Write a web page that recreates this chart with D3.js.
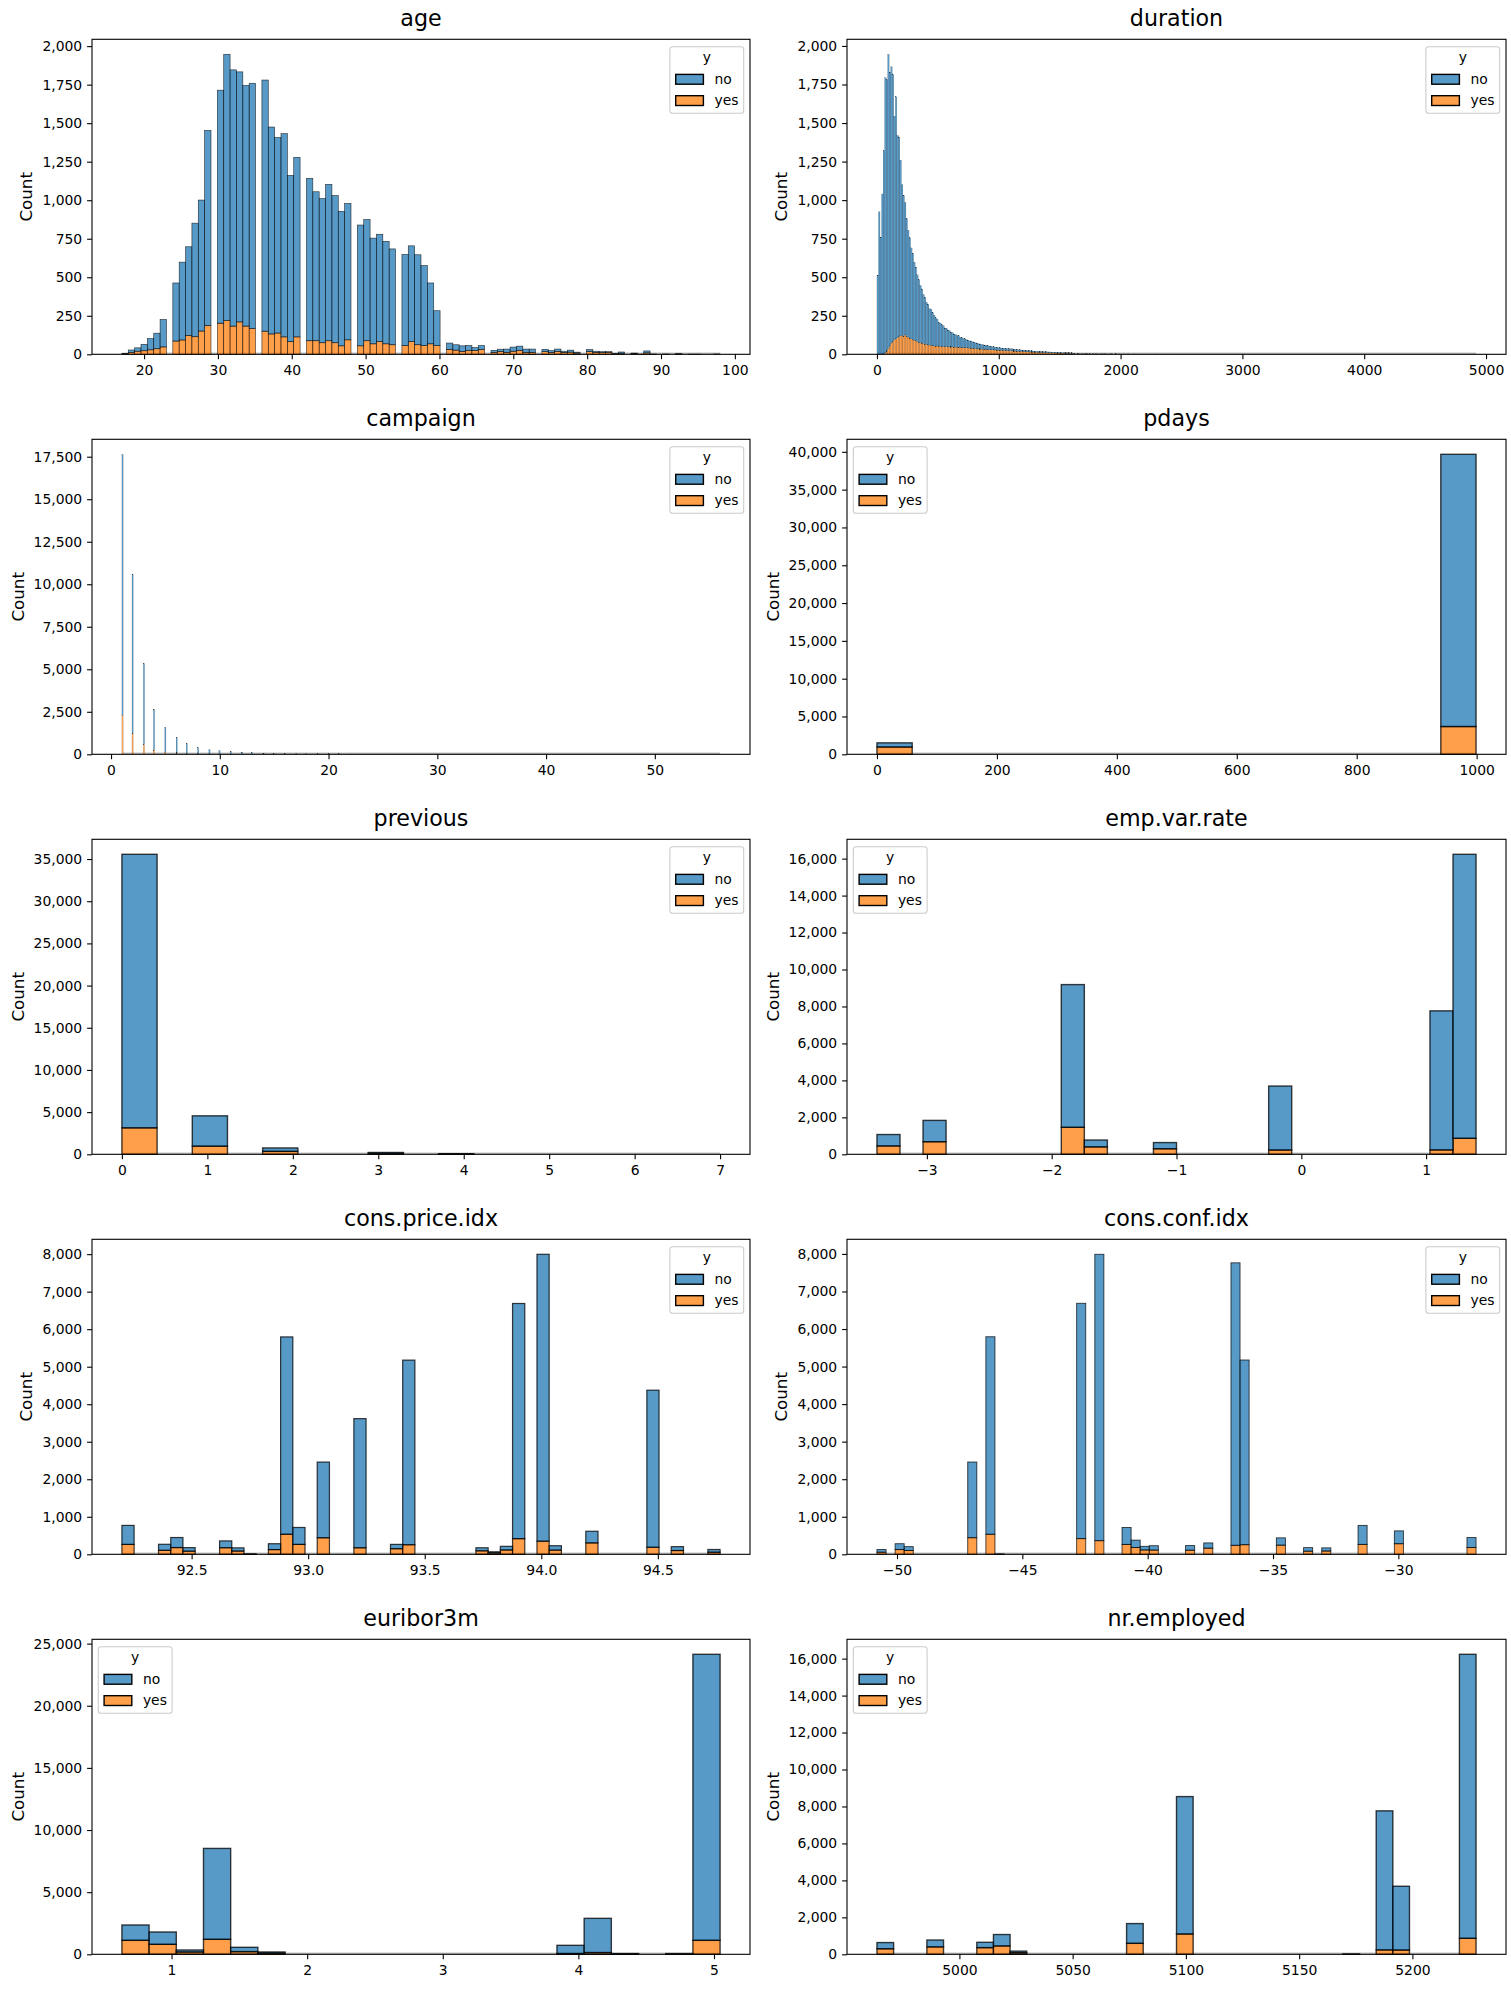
<!DOCTYPE html>
<html>
<head>
<meta charset="utf-8">
<script src="https://cdn.jsdelivr.net/npm/d3@7"></script>
<style>
  body { margin: 0; background: #fff; }
  text { font-family: "DejaVu Sans", sans-serif; fill: #000; }
</style>
</head>
<body>
<svg id="fig" width="1511" height="2011"></svg>
<script>
// ---- data (counts per value or per bin, split by y = no / yes) ----

// age: one entry per age, binned later into 94 equal bins
var ageVals = [17,18,19,20,21,22,23,24,25,26,27,28,29,30,31,32,33,34,35,36,37,38,39,40,41,42,43,44,45,46,47,48,49,50,
  51,52,53,54,55,56,57,58,59,60,61,62,63,64,65,66,67,68,69,70,71,72,73,74,75,76,77,78,79,80,81,82,83,84,85,86,87,88,89,90,
  91,92,93,94,95,96,97,98];
var ageNo = [3,16,22,42,73,101,178,377,505,576,737,850,1267,1512,1727,1663,1623,1562,1592,1630,1343,1269,1319,1079,1165,
  1054,967,936,1015,955,873,885,784,787,686,697,665,622,592,622,584,520,395,227,41,35,36,32,20,26,14,15,21,27,28,21,21,
  15,12,15,8,13,6,14,7,5,4,2,8,4,1,13,0,0,2,1,0,1,1,0,0,0];
var ageYes = [2,12,20,23,29,36,48,86,93,122,114,151,186,202,220,183,210,183,167,150,132,138,113,82,113,88,88,75,88,75,
  55,94,55,88,68,82,68,62,56,82,62,56,68,56,32,27,19,25,24,31,12,18,13,20,25,13,13,17,12,19,12,14,8,17,13,12,13,5,7,4,0,
  9,2,0,0,3,0,0,0,0,0,2];

// duration: counts per bin (392 bins over 0..4918), dense for the first bins, then sparse [bin, no, yes]
var durNo = [514,924,759,1038,1316,1786,1759,1908,1774,1792,
  1731,1449,1569,1313,1296,1141,977,912,859,765,
  693,651,589,561,506,479,432,407,372,353,
  318,304,273,264,236,235,215,199,184,174,
  156,151,142,135,122,120,110,105,96,93,
  85,82,76,74,66,64,59,57,53,50,
  46,46,42,41,38,37,34,33,30,29,
  27,25,24,23,21,21,19,19,18,17,
  16,15,15,14,14,13,13,13,13,12,
  11,11,10,10,10,9,10,9,9,8,
  8,7,7,7,7,6,7,6,6,6,
  5,6,5,5,5,5,4,5,4,4,
  4,4,4,3,4,4,3,3];
var durYes = [0,0,1,2,4,9,21,38,56,73,
  84,96,101,107,114,119,123,118,126,115,
  112,104,101,94,92,87,83,77,75,71,
  70,66,64,61,60,57,56,55,53,54,
  51,52,50,51,49,50,48,49,47,48,
  46,47,45,46,44,45,43,44,42,43,
  41,40,39,38,37,36,35,34,34,33,
  32,33,31,31,30,29,29,28,27,27,
  26,26,25,25,24,24,23,23,22,21,
  21,20,20,19,18,18,17,17,16,16,
  15,15,14,14,13,13,12,12,11,11,
  11,10,10,10,9,9,9,8,8,8,
  7,7,7,7,6,6,6,6];
var durTail = [[128,3,5],[129,2,4],[131,1,5],[132,2,3],[134,2,4],[136,1,4],[137,2,2],[139,1,3],[141,1,3],[143,2,2],
  [145,0,3],[147,1,2],[149,1,3],[151,0,2],[153,1,2],[156,1,2],[158,0,2],[161,1,1],[164,0,2],[168,1,1],[172,0,1],
  [176,0,2],[182,0,2],[187,1,0],[196,0,1],[245,1,0],[391,1,0]];

// campaign: per value
var campVals = [1,2,3,4,5,6,7,8,9,10,11,12,13,14,15,16,17,18,19,20,21,22,23,24,25,26,27,28,29,30,31,32,33,34,35,37,39,40,41,42,43,56];
var campNo = [15342,9359,4767,2402,1479,904,591,383,266,213,165,122,88,68,49,51,54,33,26,29,24,16,15,15,8,8,11,8,10,7,7,4,4,3,5,1,1,2,1,2,2,1];
var campYes = [2300,1211,574,249,120,75,38,17,17,12,12,3,4,1,2,0,4,0,0,1,0,1,1,0,0,0,0,0,0,0,0,0,0,0,0,0,0,0,0,0,0,0];

// pdays: the small-day group and the 999 group
var pdaysVals = [0, 999];
var pdaysNo = [548, 36000];
var pdaysYes = [967, 3673];

// previous
var prevVals = [0,1,2,3,4,5,6,7];
var prevNo = [32422,3594,404,88,32,0,0,0];
var prevYes = [3141,967,350,128,38,0,0,0];

// emp.var.rate
var empVals = [-3.4,-3.0,-2.9,-1.8,-1.7,-1.1,-0.2,-0.1,1.1,1.4];
var empNo = [617,84,1069,7723,370,334,9,3451,7523,15368];
var empYes = [454,88,594,1461,403,301,1,232,240,866];

// cons.price.idx
var priceVals = [92.201,92.379,92.431,92.469,92.649,92.713,92.756,92.843,92.893,92.963,93.075,93.2,93.369,93.444,
  93.749,93.798,93.876,93.918,93.994,94.027,94.055,94.199,94.215,94.465,94.601,94.767];
var priceNo = [506,161,267,94,181,84,9,156,5259,451,2016,3441,114,4919,80,28,96,6267,7523,123,116,139,170,4186,103,72];
var priceYes = [264,106,180,84,176,88,1,126,535,264,442,175,150,256,94,39,116,418,240,110,113,164,141,188,101,56];

// cons.conf.idx
var confVals = [-50.8,-50.0,-49.5,-47.1,-46.2,-45.9,-42.7,-42.0,-41.8,-40.8,-40.4,-40.3,-40.0,-39.8,-38.3,-37.5,
  -36.4,-36.1,-34.8,-34.6,-33.6,-33.0,-31.4,-30.1,-29.8,-26.9];
var confNo = [72,156,103,2016,5259,9,6267,3441,4186,451,28,170,96,116,123,139,7523,4919,114,80,94,84,506,181,161,267];
var confYes = [56,126,101,442,535,1,418,175,188,264,39,141,116,113,110,164,240,256,150,94,84,88,264,176,106,180];

// euribor3m: counts per bin (22 bins over 0.634..5.045)
var euriborNo = [1233,991,160,7314,349,81,0,0,0,0,0,0,0,0,0,0,663,2754,40,0,55,23015];
var euriborYes = [1125,804,188,1206,214,107,0,0,0,0,0,0,0,0,0,0,60,140,20,0,5,1125];

// nr.employed
var nrVals = [4963.6,4991.6,5008.7,5017.5,5023.5,5076.2,5099.1,5176.3,5191.0,5195.8,5228.1];
var nrNo = [334,370,289,617,84,1069,7434,9,7523,3451,15368];
var nrYes = [301,403,361,454,88,594,1100,1,240,232,866];

// ---- binning helpers ----
function binValues(vals, no, yes, lo, hi, n) {
  var bins = d3.range(n).map(function() { return { no: 0, yes: 0 }; });
  vals.forEach(function(v, i) {
    var k = Math.min(n - 1, Math.floor((v - lo) * n / (hi - lo)));
    bins[k].no += no[i];
    bins[k].yes += yes[i];
  });
  return bins;
}
function binDense(no, yes, n, tail) {
  var bins = d3.range(n).map(function() { return { no: 0, yes: 0 }; });
  no.forEach(function(v, i) { bins[i].no = v; bins[i].yes = yes[i]; });
  (tail || []).forEach(function(t) { bins[t[0]].no += t[1]; bins[t[0]].yes += t[2]; });
  return bins;
}

var panels = [
  { title: "age", lo: 17, hi: 98, n: 94, bins: binValues(ageVals, ageNo, ageYes, 17, 98, 94),
    xTicks: [20,30,40,50,60,70,80,90,100], yStep: 250, legend: "right" },
  { title: "duration", lo: 0, hi: 4918, n: 392, bins: binDense(durNo, durYes, 392, durTail),
    xTicks: [0,1000,2000,3000,4000,5000], yStep: 250, legend: "right" },
  { title: "campaign", lo: 1, hi: 56, n: 475, bins: binValues(campVals, campNo, campYes, 1, 56, 475),
    xTicks: [0,10,20,30,40,50], yStep: 2500, legend: "right" },
  { title: "pdays", lo: 0, hi: 999, n: 17, bins: binValues(pdaysVals, pdaysNo, pdaysYes, 0, 999, 17),
    xTicks: [0,200,400,600,800,1000], yStep: 5000, legend: "left" },
  { title: "previous", lo: 0, hi: 7, n: 17, bins: binValues(prevVals, prevNo, prevYes, 0, 7, 17),
    xTicks: [0,1,2,3,4,5,6,7], yStep: 5000, legend: "right" },
  { title: "emp.var.rate", lo: -3.4, hi: 1.4, n: 26, bins: binValues(empVals, empNo, empYes, -3.4, 1.4, 26),
    xTicks: [-3,-2,-1,0,1], yStep: 2000, legend: "left" },
  { title: "cons.price.idx", lo: 92.201, hi: 94.767, n: 49, bins: binValues(priceVals, priceNo, priceYes, 92.201, 94.767, 49),
    xTicks: [92.5,93.0,93.5,94.0,94.5], xFmt: ".1f", yStep: 1000, legend: "right" },
  { title: "cons.conf.idx", lo: -50.8, hi: -26.9, n: 66, bins: binValues(confVals, confNo, confYes, -50.8, -26.9, 66),
    xTicks: [-50,-45,-40,-35,-30], yStep: 1000, legend: "right" },
  { title: "euribor3m", lo: 0.634, hi: 5.045, n: 22, bins: binDense(euriborNo, euriborYes, 22),
    xTicks: [1,2,3,4,5], yStep: 5000, legend: "left" },
  { title: "nr.employed", lo: 4963.6, hi: 5228.1, n: 36, bins: binValues(nrVals, nrNo, nrYes, 4963.6, 5228.1, 36),
    xTicks: [5000,5050,5100,5150,5200], yStep: 2000, legend: "left" }
];

var colNo = "#1f77b4", colYes = "#ff7f0e";
var fig = d3.select("#fig");

panels.forEach(function(p, i) { drawPanel(p, i % 2, Math.floor(i / 2)); });

function drawPanel(p, col, row) {
  var x0 = col ? 847 : 92, w = col ? 659 : 658;
  var y0 = 39.3 + 400 * row, h = 315;
  var span = p.hi - p.lo, bw = span / p.n;

  var x = d3.scaleLinear().domain([p.lo - 0.05 * span, p.hi + 0.05 * span]).range([x0, x0 + w]);
  var maxT = d3.max(p.bins, function(b) { return b.no + b.yes; });
  var y = d3.scaleLinear().domain([0, maxT * 1.05]).range([y0 + h, y0]);

  var g = fig.append("g");
  var lw = Math.min(0.1 * (x(p.lo + bw) - x(p.lo)), 1.39);

  // zero-height bins leave a faint line along the bottom
  g.append("line")
    .attr("x1", x(p.lo)).attr("x2", x(p.hi))
    .attr("y1", y(0) - 1).attr("y2", y(0) - 1)
    .style("stroke", "#c4c4c4").style("stroke-width", 1.6);

  var bars = p.bins.map(function(b, k) { return { k: k, no: b.no, yes: b.yes }; });

  // yes at the bottom, no stacked above
  g.selectAll(".yes").data(bars.filter(function(b) { return b.yes > 0; }))
    .enter().append("rect")
    .attr("x", function(b) { return x(p.lo + b.k * bw); })
    .attr("width", function(b) { return x(p.lo + (b.k + 1) * bw) - x(p.lo + b.k * bw); })
    .attr("y", function(b) { return y(b.yes); })
    .attr("height", function(b) { return y(0) - y(b.yes); })
    .style("fill", colYes).style("fill-opacity", 0.75)
    .style("stroke", "#000").style("stroke-opacity", 0.75).style("stroke-width", lw);

  g.selectAll(".no").data(bars.filter(function(b) { return b.no > 0; }))
    .enter().append("rect")
    .attr("x", function(b) { return x(p.lo + b.k * bw); })
    .attr("width", function(b) { return x(p.lo + (b.k + 1) * bw) - x(p.lo + b.k * bw); })
    .attr("y", function(b) { return y(b.yes + b.no); })
    .attr("height", function(b) { return y(b.yes) - y(b.yes + b.no); })
    .style("fill", colNo).style("fill-opacity", 0.75)
    .style("stroke", "#000").style("stroke-opacity", 0.75).style("stroke-width", lw);

  // axes
  var fmtX = p.xFmt ? d3.format(p.xFmt) : d3.format("d");
  var xa = g.append("g").attr("transform", "translate(0," + (y0 + h) + ")")
    .call(d3.axisBottom(x).tickValues(p.xTicks).tickFormat(fmtX).tickSize(4.9).tickPadding(4.9));
  var yTicks = d3.range(0, y.domain()[1] + 1e-6, p.yStep);
  var ya = g.append("g").attr("transform", "translate(" + x0 + ",0)")
    .call(d3.axisLeft(y).tickValues(yTicks).tickFormat(d3.format(",")).tickSize(4.9).tickPadding(4.9));
  [xa, ya].forEach(function(a) {
    a.select(".domain").remove();
    a.selectAll(".tick line").style("stroke", "#000").style("stroke-width", 1.1);
    a.selectAll(".tick text").style("font-size", "13.9px").style("font-family", "DejaVu Sans");
  });
  xa.selectAll(".tick text").attr("dy", "0.76em");

  g.append("rect")
    .attr("x", x0).attr("y", y0).attr("width", w).attr("height", h)
    .style("fill", "none").style("stroke", "#000").style("stroke-width", 1.1);

  // y label placed left of the widest tick label
  var maxW = 0;
  ya.selectAll(".tick text").each(function() { maxW = Math.max(maxW, this.getComputedTextLength()); });
  var cx = x0 - 9.8 - maxW - 16;
  g.append("text")
    .attr("transform", "translate(" + (cx + 6) + "," + (y0 + h / 2) + ") rotate(-90)")
    .attr("text-anchor", "middle")
    .style("font-size", "16.7px")
    .text("Count");

  g.append("text")
    .attr("x", x0 + w / 2).attr("y", y0 - 13.5)
    .attr("text-anchor", "middle")
    .style("font-size", "22.2px")
    .text(p.title);

  // legend
  var lgW = 73.8, lgH = 66.6;
  var bx = p.legend === "left" ? x0 + 6.3 : x0 + w - 6.3 - lgW, by = y0 + 7.4;
  var lg = g.append("g");
  lg.append("rect")
    .attr("x", bx).attr("y", by).attr("width", lgW).attr("height", lgH).attr("rx", 2.8)
    .style("fill", "#fff").style("fill-opacity", 0.8)
    .style("stroke", "#cccccc").style("stroke-width", 1.1);
  lg.append("text")
    .attr("x", bx + lgW / 2).attr("y", by + 15.2)
    .attr("text-anchor", "middle").style("font-size", "13.9px").text("y");
  [["no", colNo, 32.6], ["yes", colYes, 53.9]].forEach(function(e) {
    lg.append("rect")
      .attr("x", bx + 5.8).attr("y", by + e[2] - 4.9).attr("width", 27.7).attr("height", 9.8)
      .style("fill", e[1]).style("fill-opacity", 0.75)
      .style("stroke", "#000").style("stroke-width", 1.4);
    lg.append("text")
      .attr("x", bx + 44.6).attr("y", by + e[2] + 4.6)
      .style("font-size", "13.9px").text(e[0]);
  });
}
</script>
</body>
</html>
